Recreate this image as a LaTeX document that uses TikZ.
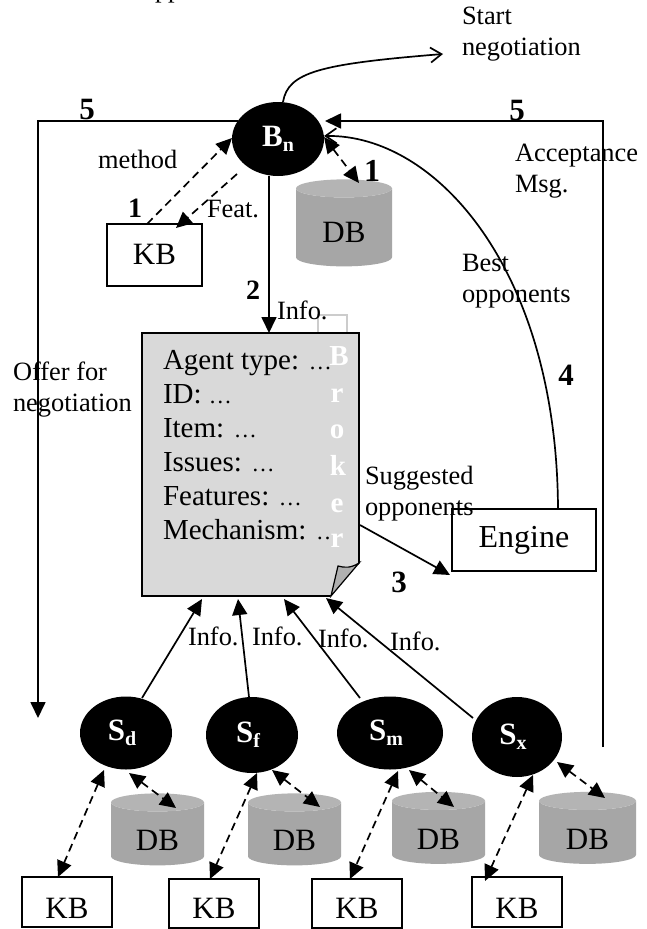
\documentclass[tikz,border=0pt]{standalone}
\usepackage{fontspec}
\setmainfont{Liberation Serif}
\usetikzlibrary{arrows.meta,shapes.geometric}
\newcommand\fs[1]{\fontsize{#1}{#1}\selectfont}
\newcommand\lowered[2]{\raisebox{-#1pt}[0pt][0pt]{#2}}
\newcommand\agentname[2]{\textcolor{white}{\bfseries\fs{31}#1\raisebox{-5pt}{\fs{20}#2}}}
\newcommand\sellername[2]{\agentname{#1}{#2}\hspace*{8pt}}
\newcommand\dotsfield{{\fontsize{23}{34}\selectfont …}}
\tikzset{
  x=1pt,y=-1pt,
  every node/.style={inner sep=0pt,outer sep=0pt},
  link/.style={line width=1.7pt,draw=black},
  tipF/.tip={Triangle[length=16pt,width=15pt]},
  tipO/.tip={Straight Barb[length=11pt,width=15pt,line width=1.7pt]},
  solidarrow/.style={link,-{tipF}},
  openarrow/.style={link,-{tipO}},
  dashone/.style={link,dash pattern=on 8pt off 5pt,-{tipF}},
  dashtwo/.style={link,dash pattern=on 8pt off 5pt,{tipF}-{tipF}},
  agent/.style={ellipse,fill=black,minimum width=#1},
  kbbox/.style={rectangle,draw=black,line width=1.7pt,fill=white,font=\fs{31}},
  dbcyl/.style={cylinder,shape border rotate=90,aspect=0.42,cylinder uses custom fill,
    cylinder body fill=cylbody,cylinder end fill=cyltop,draw=none,font=\fs{31}},
  lab/.style={anchor=base west,font=\fs{26.4}},
  lablines/.style={anchor=north west,align=left,font=\fontsize{26.4}{31}\selectfont},
  num/.style={anchor=base,font=\bfseries\fs{#1}},
  brokerletter/.style={anchor=base,text=white,font=\bfseries\fs{29}},
}
\definecolor{cylbody}{HTML}{A6A6A6}
\definecolor{cyltop}{HTML}{B4B4B4}
\definecolor{docfill}{HTML}{D9D9D9}
\definecolor{foldfill}{HTML}{B0B0B0}
\definecolor{tabline}{HTML}{CCCCCC}
\begin{document}
\begin{tikzpicture}
\useasboundingbox (0,0) rectangle (647,929);
\clip (0,0) rectangle (647,929);
\fill[white] (0,0) rectangle (647,929);

\node[lab] (cut) at (155,-3) {pp};

% tab above the document
\draw[tabline,line width=1.2pt] (318,333) -- (318,315) -- (347,315) -- (347,333);

% document
\node[rectangle,draw=black,line width=1.7pt,fill=docfill,minimum width=217pt,minimum height=263pt] (doc) at (250.5,464.5) {};
\fill[white] ([shift={(1,-33)}]doc.south east) -- ([shift={(1,1)}]doc.south east) -- ([shift={(-29,1)}]doc.south east) -- cycle;
\draw[line width=1.2pt,fill=foldfill] ([shift={(0,-33)}]doc.south east) .. controls ([shift={(-8,-28)}]doc.south east) and ([shift={(-14,-28)}]doc.south east) .. ([shift={(-21,-30)}]doc.south east) -- ([shift={(-28,0)}]doc.south east) -- cycle;
\node[anchor=north west,align=left,font=\fontsize{29}{34}\selectfont] (fields) at (163,350) {Agent type: \dotsfield\\ID: \dotsfield\\Item: \dotsfield\\Issues: \dotsfield\\Features: \dotsfield\\Mechanism: \dotsfield};
\node[brokerletter] (b1) at (339,365) {B};
\node[brokerletter] (b2) at (337,402) {r};
\node[brokerletter] (b3) at (337,438) {o};
\node[brokerletter] (b4) at (338,475) {k};
\node[brokerletter] (b5) at (337,512) {e};
\node[brokerletter] (b6) at (337,547) {r};

% agents
\node[agent=92pt,minimum height=74pt] (Bn) at (278,139) {\agentname{B}{n}};
\node[agent=92pt,minimum height=73pt] (Sd) at (126,733) {\sellername{S}{d}};
\node[agent=92pt,minimum height=76pt] (Sf) at (252,735) {\sellername{S}{f}};
\node[agent=106pt,minimum height=73pt] (Sm) at (390,733) {\sellername{S}{m}};
\node[agent=90pt,minimum height=80pt] (Sx) at (517,737) {\sellername{S}{x}};

% knowledge bases
\node[kbbox,minimum width=95pt,minimum height=62pt] (KB0) at (154.5,255) {\lowered{9.5}{KB}};
\node[kbbox,minimum width=90pt,minimum height=50pt] (KB1) at (67,902) {\lowered{16.5}{KB}};
\node[kbbox,minimum width=90pt,minimum height=49pt] (KB2) at (214,903.5) {\lowered{15}{KB}};
\node[kbbox,minimum width=90pt,minimum height=49pt] (KB3) at (357,903.5) {\lowered{15}{KB}};
\node[kbbox,minimum width=90pt,minimum height=50pt] (KB4) at (517,902) {\lowered{16.5}{KB}};

% databases
\node[dbcyl,minimum width=96pt,minimum height=87pt] (DB0) at (344,227.5) {\lowered{15}{DB}};
\node[dbcyl,minimum width=93pt,minimum height=72pt] (DB1) at (157.5,834) {\lowered{16.5}{DB}};
\node[dbcyl,minimum width=93pt,minimum height=72pt] (DB2) at (294.5,834) {\lowered{16.5}{DB}};
\node[dbcyl,minimum width=93pt,minimum height=72pt] (DB3) at (438.5,832.5) {\lowered{16.5}{DB}};
\node[dbcyl,minimum width=97pt,minimum height=72pt] (DB4) at (587.5,832.5) {\lowered{16.5}{DB}};

% engine
\node[kbbox,minimum width=144pt,minimum height=62pt,font=\fs{32}] (Engine) at (524,540) {Engine};

% free ends
\coordinate (startEnd) at (443,54);
\coordinate (leftEnd) at (38,718);
\coordinate (rightEnd) at (603,747);

% connectors at the broker
\draw[openarrow] ([shift={(5,-37)}]Bn.center) .. controls (288,72) and (320,64) .. (startEnd);
\draw[solidarrow] ([shift={(-40,-18)}]Bn.center) -| (leftEnd);
\draw[solidarrow] (rightEnd) |- ([shift={(47,-18)}]Bn.center);
\draw[dashone] ([shift={(-7.5,-31)}]KB0.center) -- ([shift={(-46,-1)}]Bn.center);
\draw[dashone] ([shift={(-41,35)}]Bn.center) -- ([shift={(21.5,-27)}]KB0.center);
\draw[dashtwo] ([shift={(46,-2)}]Bn.center) -- ([shift={(15,-44.5)}]DB0.center);
\draw[solidarrow] ([shift={(-9,37)}]Bn.center) -- ([shift={(18.5,-131.5)}]doc.center);
\draw[openarrow] ([shift={(34,-31)}]Engine.center) .. controls (557,270) and (436,134) .. ([shift={(46,-3)}]Bn.center);

% document to engine
\draw[solidarrow] ([shift={(109.5,60.5)}]doc.center) -- ([shift={(-74,35)}]Engine.center);

% sellers to document
\draw[solidarrow] ([shift={(16,-35)}]Sd.center) -- ([shift={(-48.5,134.5)}]doc.center);
\draw[solidarrow] ([shift={(-3,-38)}]Sf.center) -- ([shift={(-12.5,134.5)}]doc.center);
\draw[solidarrow] ([shift={(-30,-35)}]Sm.center) -- ([shift={(33.5,134.5)}]doc.center);
\draw[solidarrow] ([shift={(-44,-19)}]Sx.center) -- ([shift={(75.5,133.5)}]doc.center);

% sellers to KB and DB
\draw[dashtwo] ([shift={(-22,37)}]Sd.center) -- ([shift={(-9,-25)}]KB1.center);
\draw[dashtwo] ([shift={(3,40)}]Sd.center) -- ([shift={(18.5,-26)}]DB1.center);
\draw[dashtwo] ([shift={(5,38)}]Sf.center) -- ([shift={(-4,-24.5)}]KB2.center);
\draw[dashtwo] ([shift={(20,35)}]Sf.center) -- ([shift={(25.5,-27)}]DB2.center);
\draw[dashtwo] ([shift={(8,38)}]Sm.center) -- ([shift={(-7,-24.5)}]KB3.center);
\draw[dashtwo] ([shift={(19,37)}]Sm.center) -- ([shift={(15.5,-25.5)}]DB3.center);
\draw[dashtwo] ([shift={(16,38)}]Sx.center) -- ([shift={(-32,-21)}]KB4.center);
\draw[dashtwo] ([shift={(40,25)}]Sx.center) -- ([shift={(17.5,-34.5)}]DB4.center);

% labels
\node[lablines] (tStart) at (462,7) {Start\\negotiation};
\node[lablines] (tAcc) at (515,144) {Acceptance\\Msg.};
\node[lablines] (tBest) at (462,254) {Best\\opponents};
\node[lablines] (tOffer) at (13,362) {Offer for\\negotiation};
\node[lablines] (tSugg) at (365,466) {Suggested\\opponents};
\node[lab] (tMethod) at (98,168) {method};
\node[lab] (tFeat) at (207,217) {Feat.};
\node[lab] (tInfo0) at (277,319) {Info.};
\node[lab] (tInfo1) at (188,645) {Info.};
\node[lab] (tInfo2) at (252,645) {Info.};
\node[lab] (tInfo3) at (318,647) {Info.};
\node[lab] (tInfo4) at (390,650) {Info.};
\node[num=31] (n5a) at (87,119) {5};
\node[num=31] (n5b) at (517,120) {5};
\node[num=28] (n1a) at (135,217) {1};
\node[num=32] (n1b) at (372,181) {1};
\node[num=28] (n2) at (253,299) {2};
\node[num=31] (n3) at (399,592) {3};
\node[num=31] (n4) at (566,385) {4};
\end{tikzpicture}
\end{document}
